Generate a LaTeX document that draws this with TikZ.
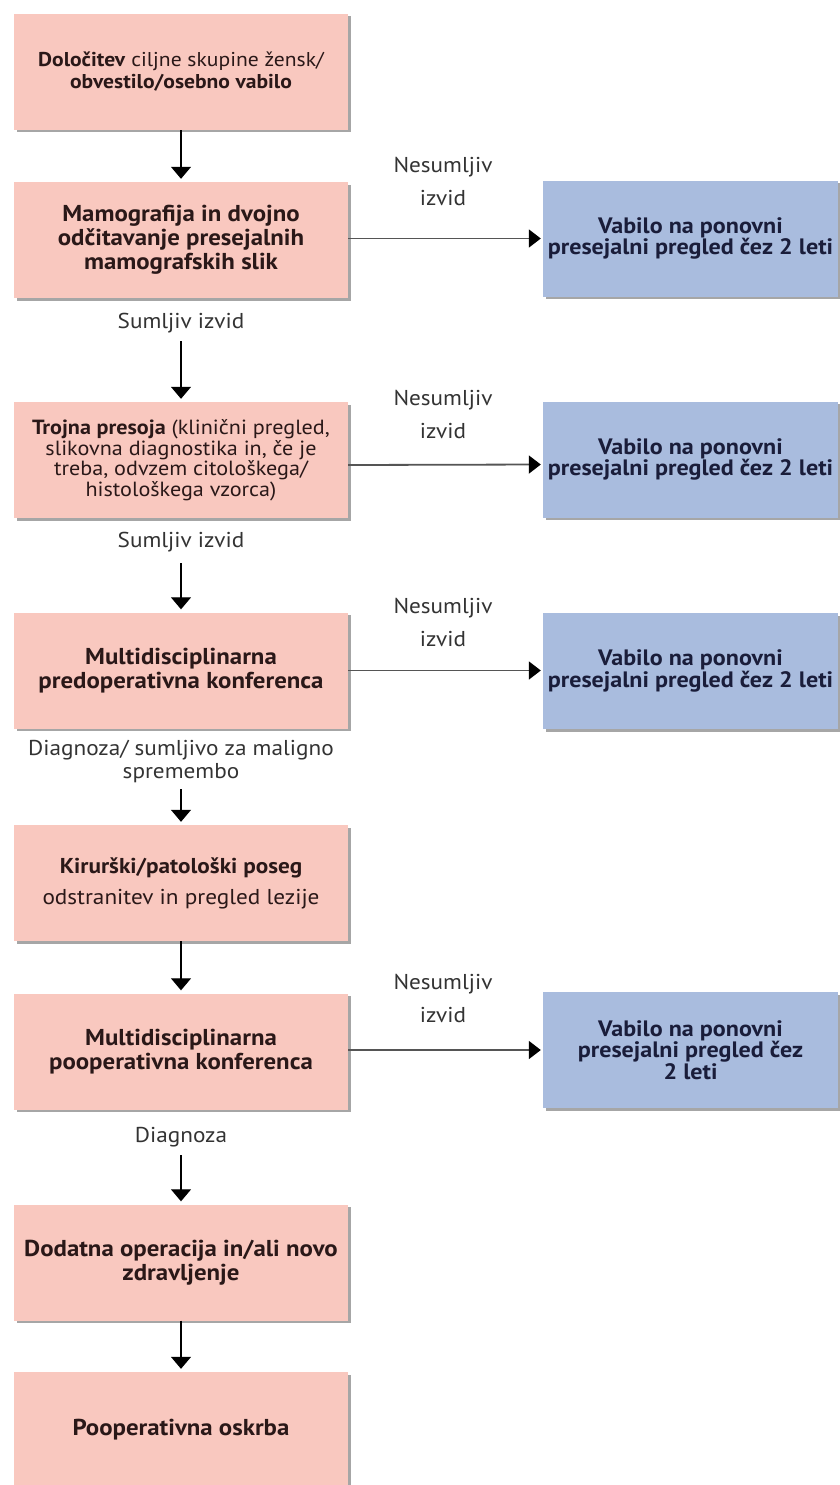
\documentclass[tikz,border=0pt]{standalone}
\usepackage{fontspec}
\setmainfont{PT Sans}[FakeStretch=1.08]
\usetikzlibrary{arrows.meta,shadows}
\definecolor{pinkfill}{HTML}{F9C8BF}
\definecolor{bluefill}{HTML}{A9BCDE}
\definecolor{pinktext}{HTML}{2A1818}
\definecolor{bluetext}{HTML}{1A1D3A}
\definecolor{labeltext}{HTML}{333333}
\definecolor{hline}{HTML}{555555}
\newcommand{\tightlines}{\lineskiplimit=-100pt\relax}
\tikzset{
  boxshadow/.style={drop shadow={shadow xshift=2.5pt, shadow yshift=-2.5pt, fill=black, opacity=0.35}},
  pinkbox/.style={fill=pinkfill, draw=none, boxshadow, minimum width=334pt, minimum height=116pt,
    inner sep=0pt, align=center, text=pinktext, font=\fontsize{21.5}{23}\selectfont\tightlines},
  pinkbold/.style={pinkbox, font=\bfseries\fontsize{23}{24}\selectfont\tightlines},
  bluebox/.style={fill=bluefill, draw=none, boxshadow, minimum width=295pt, minimum height=116pt,
    inner sep=0pt, align=center, text=bluetext, font=\bfseries\fontsize{22.3}{21.5}\selectfont\tightlines},
  lbl/.style={text=labeltext, align=center, inner sep=0pt, font=\fontsize{21.5}{23}\selectfont\tightlines},
  sidelbl/.style={text=labeltext, align=center, inner sep=0pt, font=\fontsize{21.5}{33}\selectfont\tightlines},
  flow/.style={draw=black, line width=1.2pt, -{Triangle[width=20pt,length=12pt]}, shorten >=3pt},
  hflow/.style={draw=hline, line width=1.8pt, -{Triangle[width=18pt,length=12pt,color=black]}, shorten >=2pt},
}
\begin{document}
\begin{tikzpicture}[x=1pt,y=-1pt]
\useasboundingbox[fill=white] (0,0) rectangle (840,1485);
% main column
\node[pinkbox, font=\fontsize{20}{22}\selectfont\tightlines] (b1) at (181,72) {\textbf{Določitev} ciljne skupine žensk/\\\textbf{obvestilo/osebno vabilo}};
\node[pinkbold] (b2) at (181,240) {Mamografija in dvojno\\odčitavanje presejalnih\\mamografskih slik};
\node[lbl] (l2) at (181,323) {Sumljiv izvid};
\node[pinkbox, font=\fontsize{20.5}{20.5}\selectfont\tightlines] (b3) at (181,460) {\textbf{Trojna presoja} (klinični pregled,\\slikovna diagnostika in, če je\\treba, odvzem citološkega/\\histološkega vzorca)};
\node[lbl] (l3) at (181,542) {Sumljiv izvid};
\node[pinkbold] (b4) at (181,670.5) {Multidisciplinarna\\predoperativna konferenca};
\node[lbl] (l4) at (181,761.5) {Diagnoza/ sumljivo za maligno\\spremembo};
\node[pinkbox] (b5) at (181,883) {\textbf{Kirurški/patološki poseg}\\[8pt]odstranitev in pregled lezije};
\node[pinkbold] (b6) at (181,1051.5) {Multidisciplinarna\\pooperativna konferenca};
\node[lbl] (l6) at (181,1137) {Diagnoza};
\node[pinkbold] (b7) at (181,1262.5) {Dodatna operacija in/ali novo\\zdravljenje};
\node[pinkbold] (b8) at (181,1430) {Pooperativna oskrba};
% side column
\node[bluebox] (v1) at (690.5,238.5) {Vabilo na ponovni\\presejalni pregled čez 2 leti};
\node[bluebox] (v2) at (690.5,459.5) {Vabilo na ponovni\\presejalni pregled čez 2 leti};
\node[bluebox] (v3) at (690.5,671) {Vabilo na ponovni\\presejalni pregled čez 2 leti};
\node[bluebox] (v4) at (690.5,1050) {Vabilo na ponovni\\presejalni pregled čez\\2 leti};
\node[sidelbl] (n1) at (443,181) {Nesumljiv\\izvid};
\node[sidelbl] (n2) at (443,414) {Nesumljiv\\izvid};
\node[sidelbl] (n3) at (443,622) {Nesumljiv\\izvid};
\node[sidelbl] (n4) at (443,998) {Nesumljiv\\izvid};
% vertical connectors
\draw[flow] (b1) -- (b2);
\draw[flow, shorten <=8pt] (l2) -- (b3);
\draw[flow, shorten <=11pt] (l3) -- (b4);
\draw[flow, shorten <=6pt] (l4) -- (b5);
\draw[flow] (b5) -- (b6);
\draw[flow, shorten <=8pt] (l6) -- (b7);
\draw[flow] (b7) -- (b8);
% horizontal connectors
\draw[hflow] (b2.east |- v1.west) -- (v1.west);
\draw[hflow] ([yshift=-5pt]b3.east) -- ([yshift=-5pt]v2.west);
\draw[hflow] (b4.east) -- (b4.east -| v3.west);
\draw[hflow] (b6.east |- v4.west) -- (v4.west);
\end{tikzpicture}
\end{document}
